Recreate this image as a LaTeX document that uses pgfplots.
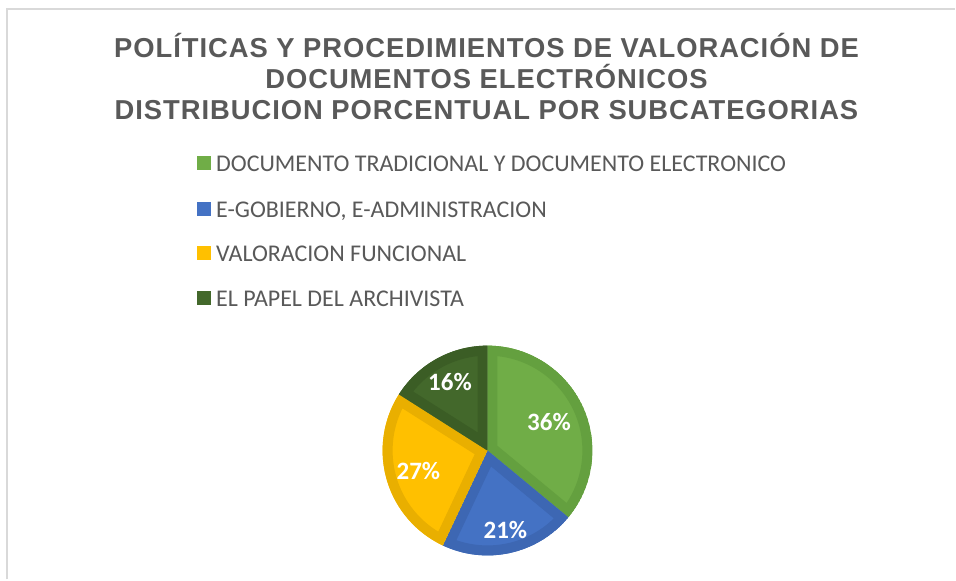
\documentclass[border=0pt]{standalone}
\usepackage{pgfplots}
\pgfplotsset{compat=1.18}
\usepackage{fontspec}
\setmainfont{Carlito}
\newfontfamily\titlefont[LetterSpace=3.5]{Liberation Sans}
\definecolor{txtgray}{HTML}{595959}
\definecolor{framegray}{HTML}{D9D9D9}
\definecolor{gA}{HTML}{70AD47}\definecolor{gAb}{HTML}{64A03F}
\definecolor{bA}{HTML}{4472C4}\definecolor{bAb}{HTML}{3D67B3}
\definecolor{yA}{HTML}{FFC000}\definecolor{yAb}{HTML}{E9AF00}
\definecolor{dA}{HTML}{43682B}\definecolor{dAb}{HTML}{3B5D25}
\begin{document}
\begin{tikzpicture}
\begin{axis}[
  width=478pt, height=290pt, scale only axis,
  xmin=0, xmax=956, ymin=0, ymax=580, y dir=reverse,
  hide axis, clip=false,
]
\addplot[draw=none, forget plot] coordinates {(0,0) (956,580)};
\pgfplotsextra{
  \fill[white] (axis cs:0,0) rectangle (axis cs:956,580);
  \draw[framegray, line width=1pt] (axis cs:7,580) -- (axis cs:7,9) -- (axis cs:956,9);
  % title
  \node[text=txtgray, font=\titlefont\bfseries\fontsize{13.7pt}{15.5pt}\selectfont, align=center, anchor=north, inner sep=0pt]
    at (axis cs:487,33) {POLÍTICAS Y PROCEDIMIENTOS DE VALORACIÓN DE\\DOCUMENTOS ELECTRÓNICOS\\DISTRIBUCION PORCENTUAL POR SUBCATEGORIAS};
  % legend
  \foreach \yy/\cc/\tt in {163/gA/DOCUMENTO TRADICIONAL Y DOCUMENTO ELECTRONICO,
                          209/bA/{E-GOBIERNO, E-ADMINISTRACION},
                          253/yA/VALORACION FUNCIONAL,
                          298/dA/EL PAPEL DEL ARCHIVISTA}{
    \fill[\cc] (axis cs:197,\yy-7) rectangle (axis cs:211,\yy+7);
    \node[anchor=west, inner sep=0pt, text=txtgray, font=\fontsize{12pt}{14pt}\selectfont]
      at (axis cs:216,\yy+3.5) {\strut\tt};
  }
  % pie (values in percent, clockwise from 12 o'clock)
  \def\r{52.5pt}
  \gdef\startang{90}
  \foreach \v/\fc/\bc/\ld in {36/gA/gAb/68, 21/bA/bAb/82, 27/yA/yAb/72, 16/dA/dAb/78}{
    \pgfmathsetmacro\endang{\startang-3.6*\v}
    \pgfmathsetmacro\midang{(\startang+\endang)/2}
    \begin{scope}
      \clip (axis cs:488,451) -- ++(\startang:\r) arc[start angle=\startang, end angle=\endang, radius=\r] -- cycle;
      \filldraw[fill=\fc, draw=\bc, line width=10pt] (axis cs:488,451) -- ++(\startang:\r) arc[start angle=\startang, end angle=\endang, radius=\r] -- cycle;
    \end{scope}
    \path (axis cs:488,451) ++(\midang:{\ld*0.5pt}) node[text=white, font=\bfseries\fontsize{12.5pt}{14pt}\selectfont] {\v\%};
    \xdef\startang{\endang}
  }
}
\end{axis}
\end{tikzpicture}
\end{document}
